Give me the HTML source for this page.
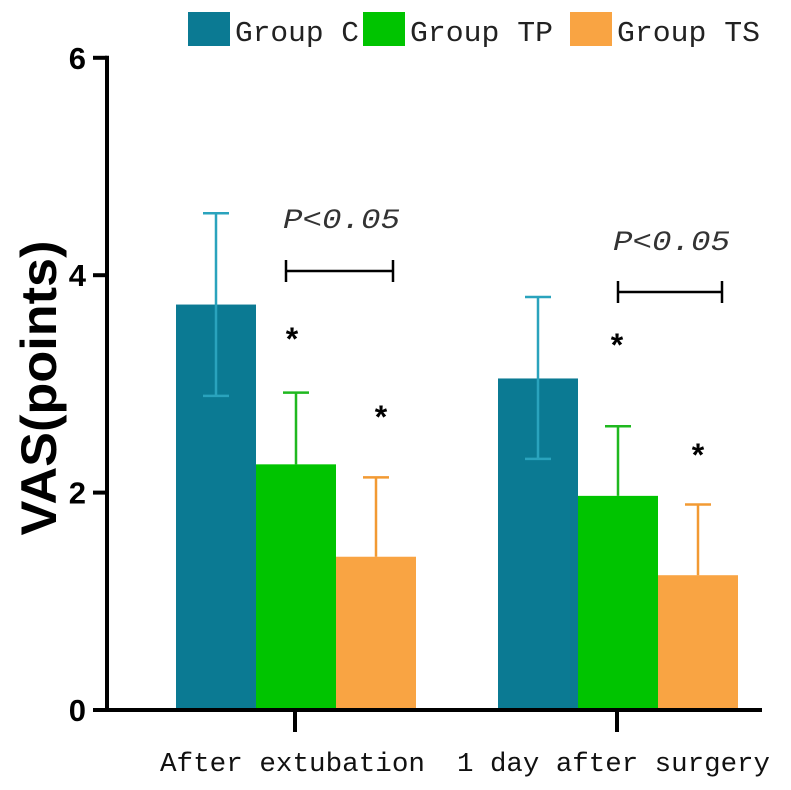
<!DOCTYPE html>
<html><head><meta charset="utf-8"><style>
body{margin:0;background:#fff;width:791px;height:790px;overflow:hidden}
svg{display:block}
</style></head><body>
<svg id="chart" width="791" height="790" viewBox="0 0 791 790" xmlns="http://www.w3.org/2000/svg">
<g id="legend"></g>
<g id="bars"></g>
<g id="axes"></g>
<g id="annot"></g>
</svg>
<script>
const categories = ["After extubation", "1 day after surgery"];
const groups = ["Group C", "Group TP", "Group TS"];
const meanC = [3.73, 3.05];
const meanTP = [2.26, 1.97];
const meanTS = [1.41, 1.24];
const upperC = [4.57, 3.80];
const upperTP = [2.92, 2.61];
const upperTS = [2.14, 1.89];
const lowerC = [2.89, 2.31];
const yTicks = [0, 2, 4, 6];

const NS = "http://www.w3.org/2000/svg";
function mk(parent, tag, attrs, text){
  const e = document.createElementNS(NS, tag);
  for (const k in attrs) e.setAttribute(k, attrs[k]);
  if (text !== undefined) e.textContent = text;
  parent.appendChild(e);
  return e;
}
const y0 = 710, pxPerUnit = 108.7;
function yS(v){ return y0 - v * pxPerUnit; }
const catStart = [176, 498];
const barW = 80;
function xS(ci, gi){ return catStart[ci] + gi * barW; }

const fills = ["#0b7a93", "#00c400", "#f9a443"];
const errCols = ["#2aa3bd", "#1fb81f", "#f29a33"];
const means = [meanC, meanTP, meanTS];
const uppers = [upperC, upperTP, upperTS];

const bars = document.getElementById("bars");
for (let ci = 0; ci < categories.length; ci++){
  for (let gi = 0; gi < groups.length; gi++){
    const x = xS(ci, gi), m = means[gi][ci], up = uppers[gi][ci];
    const cx = x + barW / 2;
    const r = mk(bars, "rect", {x: x, y: yS(m), width: barW, height: yS(0) - yS(m), fill: fills[gi]});
    
    
    const lo = gi === 0 ? lowerC[ci] : m;
    const l = mk(bars, "line", {x1: cx, x2: cx, y1: yS(up), y2: yS(lo), stroke: errCols[gi], "stroke-width": 2.5});
    
    
    mk(bars, "line", {x1: cx - 13, x2: cx + 13, y1: yS(up), y2: yS(up), stroke: errCols[gi], "stroke-width": 2.5});
    if (gi === 0) mk(bars, "line", {x1: cx - 13, x2: cx + 13, y1: yS(lo), y2: yS(lo), stroke: errCols[gi], "stroke-width": 2.5});
  }
}

const axes = document.getElementById("axes");
mk(axes, "line", {x1: 107, x2: 107, y1: yS(6) - 2, y2: y0 + 2, stroke: "#000", "stroke-width": 4});
mk(axes, "line", {x1: 105, x2: 762, y1: y0, y2: y0, stroke: "#000", "stroke-width": 4});
yTicks.forEach(t => {
  mk(axes, "line", {x1: 93, x2: 107, y1: yS(t), y2: yS(t), stroke: "#000", "stroke-width": 4});
  const tx = mk(axes, "text", {x: 86, y: yS(t) + 11, "text-anchor": "end", "font-family": "Liberation Sans, sans-serif", "font-weight": "bold", "font-size": 31}, t);
  
  
});
const labelW = [265, 313];
categories.forEach((c, ci) => {
  const cx = catStart[ci] + barW * 1.5 - 1;
  mk(axes, "line", {x1: cx, x2: cx, y1: y0, y2: y0 + 22, stroke: "#000", "stroke-width": 4});
  const tx = mk(axes, "text", {x: ci === 0 ? 160 : 457, y: 771, textLength: labelW[ci], lengthAdjust: "spacingAndGlyphs", "font-family": "Liberation Mono, monospace", "font-size": 27, fill: "#111"}, c);
  
  
});
const yt = mk(axes, "text", {x: 0, y: 0, transform: "translate(56,388) rotate(-90)", "text-anchor": "middle", textLength: 295, lengthAdjust: "spacingAndGlyphs", "font-family": "Liberation Sans, sans-serif", "font-weight": "bold", "font-size": 50}, "VAS(points)");



const legend = document.getElementById("legend");
const legX = [188, 363, 570];
const legW = [124, 143, 143];
groups.forEach((g, gi) => {
  const r = mk(legend, "rect", {x: legX[gi], y: 12, width: 42, height: 34, fill: fills[gi]});
  
  
  const t = mk(legend, "text", {x: legX[gi] + 47, y: 41, textLength: legW[gi], lengthAdjust: "spacingAndGlyphs", "font-family": "Liberation Mono, monospace", "font-size": 29, fill: "#222"}, g);
  
  
});

const annot = document.getElementById("annot");
const brackets = [[286, 393, 271, 228, 283], [618, 722, 292, 250, 613]];
brackets.forEach(b => {
  mk(annot, "line", {x1: b[0], x2: b[1], y1: b[2], y2: b[2], stroke: "#000", "stroke-width": 2.5});
  mk(annot, "line", {x1: b[0], x2: b[0], y1: b[2] - 11, y2: b[2] + 11, stroke: "#000", "stroke-width": 2.5});
  mk(annot, "line", {x1: b[1], x2: b[1], y1: b[2] - 11, y2: b[2] + 11, stroke: "#000", "stroke-width": 2.5});
  const t = mk(annot, "text", {x: b[4], y: b[3], textLength: 117, lengthAdjust: "spacingAndGlyphs", "font-family": "Liberation Mono, monospace", "font-style": "italic", "font-size": 28, fill: "#333"}, "P<0.05");
  
  
});
const stars = [[292, 350], [381, 428], [617, 356], [698, 466]];
stars.forEach(s => {
  const t = mk(annot, "text", {x: s[0], y: s[1], "text-anchor": "middle", "font-family": "Liberation Sans, sans-serif", "font-weight": "bold", "font-size": 32}, "*");
  
  
});
</script>
</body></html>
